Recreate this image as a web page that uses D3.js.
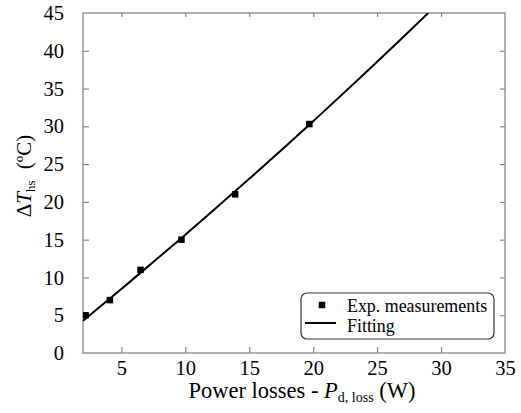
<!DOCTYPE html>
<html>
<head>
<meta charset="utf-8">
<script src="https://cdn.jsdelivr.net/npm/d3@7"></script>
<style>
  body { margin: 0; background: #fff; }
  svg { display: block; font-family: "Liberation Serif", "Times New Roman", serif; }
</style>
</head>
<body>
<svg id="chart" width="521" height="413"></svg>
<script>
// Data
const measPower = [2.2, 4.1, 6.5, 9.7, 13.9, 19.7];
const measDeltaT = [5.0, 7.0, 11.0, 15.0, 21.0, 30.3];
const fitPower = [2, 5, 8, 10, 12, 15, 18, 20, 22, 25, 27, 29];
const fitDeltaT = [4.27, 8.47, 12.77, 15.64, 18.58, 23.05, 27.6, 30.68, 33.8, 38.54, 41.75, 45.0];
const xTicks = [5, 10, 15, 20, 25, 30, 35];
const yTicks = [0, 5, 10, 15, 20, 25, 30, 35, 40, 45];
const legendLabels = ["Exp. measurements", "Fitting"];

const svg = d3.select("#chart");
const L = 83, R = 505, T = 13, B = 353;
const x = d3.scaleLinear().domain([2, 35]).range([L, R]);
const y = d3.scaleLinear().domain([0, 45]).range([B, T]);
const axisColor = "#858585";
const serif = "'Liberation Serif', 'Times New Roman', serif";

svg.append("defs").append("clipPath").attr("id", "clip")
  .append("rect").attr("x", L).attr("y", T).attr("width", R - L).attr("height", B - T);

function styleAxis(g) {
  g.select(".domain").remove();
  g.attr("font-family", null).attr("font-size", null);
  g.selectAll(".tick line").attr("stroke", axisColor).attr("stroke-width", 1.2);
  g.selectAll(".tick text").attr("fill", "#000").style("font-size", "20.5px")
    .style("font-family", serif);
}

// bottom axis (ticks inward)
svg.append("g").attr("transform", `translate(0,${B})`)
  .call(d3.axisBottom(x).tickValues(xTicks).tickSize(-6).tickPadding(7).tickFormat(d3.format("d")))
  .call(styleAxis)
  .call(g => g.selectAll(".tick").filter(d => d === 35).select("line").remove());
// top axis ticks
svg.append("g").attr("transform", `translate(0,${T})`)
  .call(d3.axisTop(x).tickValues(xTicks.filter(d => d < 35)).tickSize(-4).tickFormat(""))
  .call(styleAxis);
// left axis
svg.append("g").attr("transform", `translate(${L},0)`)
  .call(d3.axisLeft(y).tickValues(yTicks).tickSize(-6).tickPadding(19).tickFormat(d3.format("d")))
  .call(styleAxis)
  .call(g => g.selectAll(".tick").filter(d => d === 0 || d === 45).select("line").remove());
// right axis ticks
svg.append("g").attr("transform", `translate(${R},0)`)
  .call(d3.axisRight(y).tickValues(yTicks.filter(d => d > 0 && d < 45)).tickSize(-5).tickFormat(""))
  .call(styleAxis);

// frame
svg.append("rect").attr("x", L).attr("y", T).attr("width", R - L).attr("height", B - T)
  .attr("fill", "none").attr("stroke", axisColor).attr("stroke-width", 1.3);

// fit line
const fitData = fitPower.map((p, i) => [p, fitDeltaT[i]]);
svg.append("path").datum(fitData)
  .attr("clip-path", "url(#clip)")
  .attr("fill", "none").attr("stroke", "#000").attr("stroke-width", 2)
  .attr("d", d3.line().x(d => x(d[0])).y(d => y(d[1])).curve(d3.curveNatural));

// measurement markers
const ms = 6.5;
svg.append("g").attr("clip-path", "url(#clip)")
  .selectAll("rect").data(measPower.map((p, i) => [p, measDeltaT[i]])).join("rect")
  .attr("x", d => x(d[0]) - ms / 2).attr("y", d => y(d[1]) - ms / 2)
  .attr("width", ms).attr("height", ms).attr("fill", "#000");

// legend
const lg = svg.append("g");
lg.append("rect").attr("x", 301).attr("y", 293).attr("width", 193).attr("height", 46)
  .attr("rx", 6).attr("ry", 6).attr("fill", "#fff").attr("stroke", "#333").attr("stroke-width", 1.2);
lg.append("rect").attr("x", 322 - ms / 2).attr("y", 305 - ms / 2).attr("width", ms).attr("height", ms).attr("fill", "#000");
lg.append("line").attr("x1", 305).attr("x2", 336).attr("y1", 323).attr("y2", 323)
  .attr("stroke", "#000").attr("stroke-width", 2);
lg.selectAll("text").data(legendLabels).join("text")
  .attr("x", 347).attr("y", (d, i) => 312 + i * 20)
  .style("font-size", "17.9px").style("font-family", serif).attr("fill", "#000").text(d => d);

// x-axis title
const xt = svg.append("text").attr("x", 302).attr("y", 398).attr("text-anchor", "middle")
  .style("font-size", "22.5px").style("font-family", serif).attr("fill", "#000");
xt.append("tspan").text("Power losses - ");
xt.append("tspan").style("font-style", "italic").text("P");
xt.append("tspan").attr("dy", 4).style("font-size", "14px").text("d, loss");
xt.append("tspan").attr("dy", -4).text(" (W)");

// y-axis title
const yt = svg.append("text").attr("transform", "translate(31,176) rotate(-90)")
  .attr("text-anchor", "middle").style("font-size", "21px").style("font-family", serif).attr("fill", "#000");
yt.append("tspan").text("Δ");
yt.append("tspan").style("font-style", "italic").text("T");
yt.append("tspan").attr("dy", 4).style("font-size", "13px").text("hs");
yt.append("tspan").attr("dy", -4).attr("dx", 6).text(" (ºC)");
</script>
</body>
</html>
